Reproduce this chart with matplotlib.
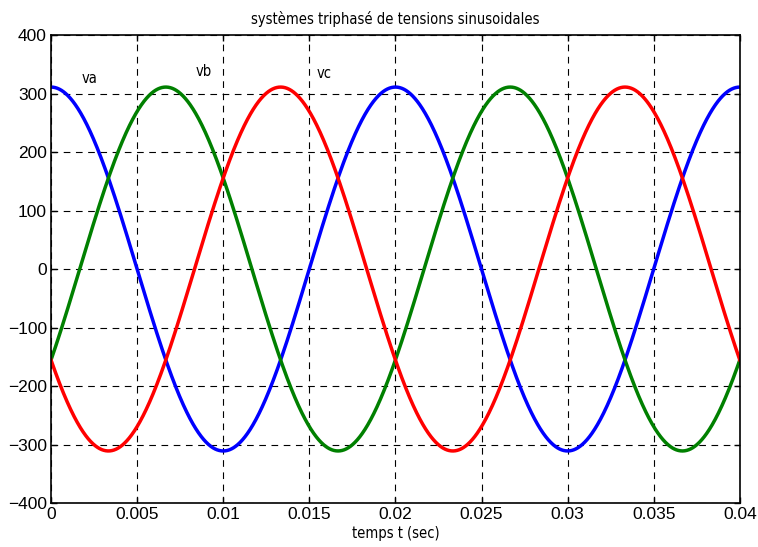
import numpy as np
import matplotlib
matplotlib.use('Agg')
import matplotlib.pyplot as plt
from matplotlib.ticker import FuncFormatter

# sinusoidal three-phase system
amplitude = 311.0           # V peak
frequency = 50.0            # Hz
phase_deg = [0, -120, 120]  # va, vb, vc
names = ["va", "vb", "vc"]
colors = ["#0000ff", "#008000", "#ff0000"]
label_pos = [(0.0018, 326), (0.0084, 338), (0.0154, 335)]
t_end = 0.04
xticks = [0, 0.005, 0.01, 0.015, 0.02, 0.025, 0.03, 0.035, 0.04]
yticks = [-400, -300, -200, -100, 0, 100, 200, 300, 400]

t = np.linspace(0, t_end, 2000)
w = 2 * np.pi * frequency

fig = plt.figure(figsize=(7.58, 5.47), dpi=100, facecolor='white')
ax = fig.add_axes([0.0673, 0.0804, 0.9087, 0.8556])

for ph, c in zip(phase_deg, colors):
    ax.plot(t, amplitude * np.cos(w * t + np.deg2rad(ph)), color=c, lw=2.5)

cond = dict(family='DejaVu Sans', fontstretch='condensed', fontsize=10.5)
for n, (x, y) in zip(names, label_pos):
    ax.text(x, y, n, ha='left', va='center', **cond)

ax.set_xlim(0, t_end); ax.set_ylim(-400, 400)
ax.set_xticks(xticks); ax.set_yticks(yticks)
ax.xaxis.set_major_formatter(FuncFormatter(lambda v, p: "%g" % v))
ax.grid(True, color='black', linestyle=(0, (6, 5)), lw=0.8)
ax.tick_params(direction='in', labelsize=12.5, length=4, width=1, top=True, right=True, pad=3)
for lab in ax.get_xticklabels() + ax.get_yticklabels():
    lab.set_family('Liberation Sans')
for s in ax.spines.values():
    s.set_linewidth(1.2)
ax.set_title("systèmes triphasé de tensions sinusoidales", pad=8, **cond)
ax.set_xlabel("temps t (sec)", labelpad=3, **cond)

plt.savefig("out.png", dpi=100)
